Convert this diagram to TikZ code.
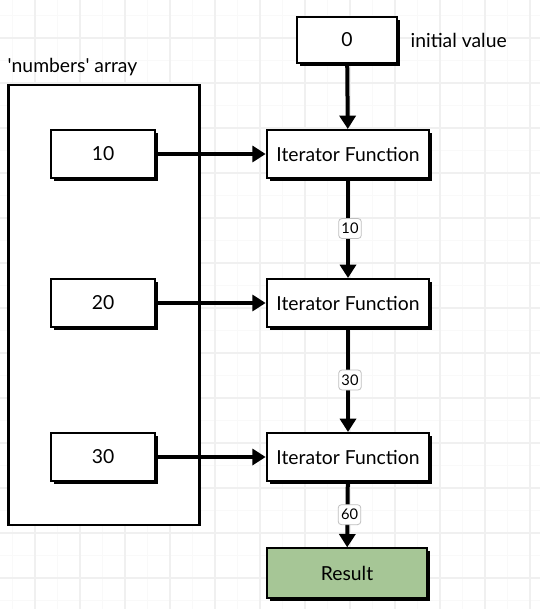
\documentclass[tikz,border=0pt]{standalone}
\usepackage{fontspec}
\setmainfont{Lato}
\usetikzlibrary{
    arrows.meta,
    shadows
}
\tikzset{
    % Colors
    grid color/.style={black!6},
    grid minor color/.style={black!2.5},
    result green/.style={fill={rgb,255:red,166;green,198;blue,150}},
    %
    % Boxes
    box/.style={draw,line width=1.5pt,fill=white,minimum height=36pt,
        drop shadow={shadow xshift=2.2pt,shadow yshift=-2.2pt,fill=black,opacity=1}},
    value box/.style={box,minimum width=78pt},
    iterator box/.style={box,minimum width=122pt},
    array box/.style={draw,line width=1.8pt,fill=white,minimum width=143pt,minimum height=330pt},
    edge label/.style={draw=black!25,line width=.6pt,fill=white,rounded corners=2.5pt,inner sep=2pt,
        minimum width=17pt,minimum height=15pt,font=\fontsize{11}{12}\selectfont},
    %
    % Arrows
    arrow tip/.tip={Triangle[length=10pt,width=12pt]},
    arr/.style={-{arrow tip},line width=3pt}
}
\tikzstyle{every node}=[font=\fontsize{14.5}{17}\selectfont]

\begin{document}
\begin{tikzpicture}[x=0.75pt,y=-0.75pt]
    \useasboundingbox (0,0) rectangle (540,609);
    \fill[white] (0,0) rectangle (540,609);
    % background grid
    \foreach \x in {12.5,57.5,...,540} \draw[grid minor color] (\x,0) -- (\x,609);
    \foreach \y in {15.5,60.5,...,609} \draw[grid minor color] (0,\y) -- (540,\y);
    \foreach \x in {35,80,...,540} \draw[grid color,line width=.8pt] (\x,0) -- (\x,609);
    \foreach \y in {38,83,...,609} \draw[grid color,line width=.8pt] (0,\y) -- (540,\y);
    % the array
    \node[array box] (numbers) at (104,305) {};
    \node[anchor=south west,inner sep=0pt] (numbers label) at ([yshift=6pt]numbers.north west) {\textquotesingle numbers\textquotesingle{} array};
    % initial value
    \node[value box,minimum width=75pt,minimum height=34.5pt] (init) at (347,40) {0};
    \node[anchor=west] (init label) at ([xshift=6pt]init.east) {initial value};
    \foreach \n/\v/\y in {1/10/154,2/20/303,3/30/457}{
        \node[value box] (num\n) at (103,\y) {\v};
        \node[iterator box] (iter\n) at (348,\y) {Iterator Function};
        \draw[arr] (num\n) -- (iter\n);
    }
    \node[box,result green,minimum width=120pt,minimum height=37pt] (result) at (347,573) {Result};
    \draw[arr] (init) -- (iter1);
    \foreach \a/\b/\s in {iter1/iter2/10,iter2/iter3/30,iter3/result/60}
        \draw[arr] (\a) -- node[edge label,xshift=1.5pt] {\s} (\b);
\end{tikzpicture}
\end{document}
